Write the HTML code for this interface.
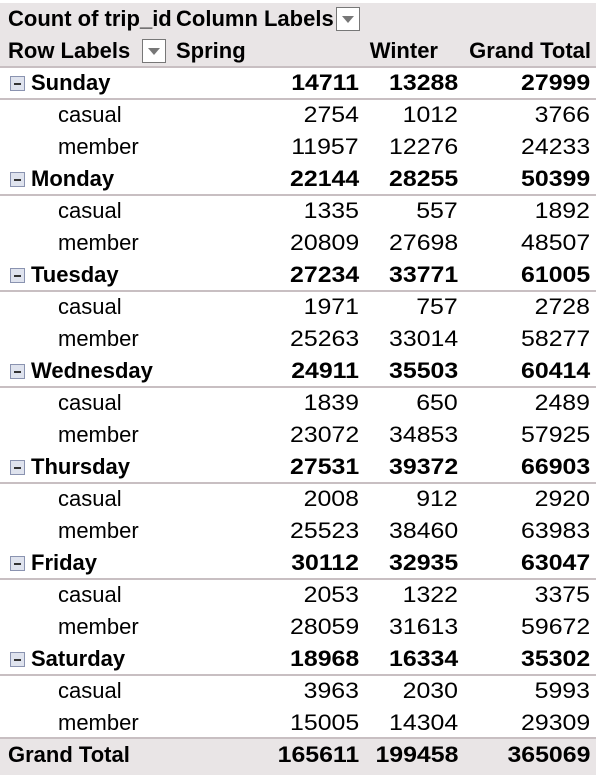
<!DOCTYPE html>
<html><head><meta charset="utf-8"><style>
body{margin:0;width:596px;height:772px;background:#fff;overflow:hidden;font-family:"Liberation Sans",sans-serif;color:#000}
#t{position:relative;width:596px;height:772px}
.r{position:absolute;left:0;width:596px;height:32px}
.c{position:absolute;font-size:22px;line-height:32px;white-space:nowrap}
.n{text-align:right;transform:scaleX(1.13);transform-origin:right center}
.dd{position:absolute;width:24px;height:24px;border:1px solid #777;background:#fff;box-sizing:border-box}
.dd:after{content:"";position:absolute;left:5px;top:8px;border-left:6px solid transparent;border-right:6px solid transparent;border-top:7px solid #777}
.mi{position:absolute;left:10px;top:9px;width:15px;height:15px;border:1px solid #8a93b0;background:#dfe3ee;box-sizing:border-box}
.mi:after{content:"";position:absolute;left:3px;top:6px;width:7px;height:2px;background:#333}
</style></head><body>
<div id="t"></div>
<script>
const days=["Sunday","Monday","Tuesday","Wednesday","Thursday","Friday","Saturday"];
const daySpring=[14711,22144,27234,24911,27531,30112,18968];
const dayWinter=[13288,28255,33771,35503,39372,32935,16334];
const dayTotal=[27999,50399,61005,60414,66903,63047,35302];
const casualSpring=[2754,1335,1971,1839,2008,2053,3963];
const casualWinter=[1012,557,757,650,912,1322,2030];
const casualTotal=[3766,1892,2728,2489,2920,3375,5993];
const memberSpring=[11957,20809,25263,23072,25523,28059,15005];
const memberWinter=[12276,27698,33014,34853,38460,31613,14304];
const memberTotal=[24233,48507,58277,57925,63983,59672,29309];
const grand=[165611,199458,365069];
const colRight=[359,458,590];
const t=document.getElementById('t');
function row(top,bg,name){const r=document.createElement('div');r.className='r';r.style.top=top+'px';if(bg)r.style.background=bg;


t.appendChild(r);return r;}
function cell(r,txt,left,right,bold,name,isNum){const c=document.createElement('div');c.className='c'+(isNum?' n':'');c.textContent=txt;
if(right){c.style.right=(596-right)+'px';}else c.style.left=left+'px';
if(bold)c.style.fontWeight='bold';


r.appendChild(c);return c;}
const h1=row(3,'#e9e5e6','header-row-1');h1.style.height='32px';
cell(h1,'Count of trip_id',8,0,true,'value-field-label');
cell(h1,'Column Labels',176,0,true,'column-labels-header');
let d=document.createElement('div');d.className='dd';d.style.left='336px';d.style.top='4px';


h1.appendChild(d);
const h2=row(35,'#e9e5e6','header-row-2');
cell(h2,'Row Labels',8,0,true,'row-labels-header');
d=document.createElement('div');d.className='dd';d.style.left='142px';d.style.top='4px';


h2.appendChild(d);
cell(h2,'Spring',176,0,true,'spring-header');
cell(h2,'Winter',0,438,true,'winter-header');
cell(h2,'Grand Total',0,591,true,'grand-total-header');
h2.style.borderBottom='2px solid #c8bfc2';h2.style.height='31px';
let y=67;
days.forEach((day,i)=>{
 const r=row(y,null,'day-row-'+day.toLowerCase());r.style.borderBottom='2px solid #c8bfc2';r.style.height='31px';
 const m=document.createElement('div');m.className='mi';
 
 
 r.appendChild(m);
 cell(r,day,31,0,true,'day-label');
 cell(r,daySpring[i],0,colRight[0],true,'day-spring',1);
 cell(r,dayWinter[i],0,colRight[1],true,'day-winter',1);
 cell(r,dayTotal[i],0,colRight[2],true,'day-total',1);
 y+=32;
 const c=row(y,null,'casual-row');
 cell(c,'casual',58,0,false,'casual-label');
 cell(c,casualSpring[i],0,colRight[0],false,'casual-spring',1);
 cell(c,casualWinter[i],0,colRight[1],false,'casual-winter',1);
 cell(c,casualTotal[i],0,colRight[2],false,'casual-total',1);
 y+=32;
 const mr=row(y,null,'member-row');
 cell(mr,'member',58,0,false,'member-label');
 cell(mr,memberSpring[i],0,colRight[0],false,'member-spring',1);
 cell(mr,memberWinter[i],0,colRight[1],false,'member-winter',1);
 cell(mr,memberTotal[i],0,colRight[2],false,'member-total',1);
 y+=32;
});
const g=row(y-2,'#e9e5e6','grand-total-row');g.style.borderTop='2px solid #c8bfc2';g.style.height='36px';
cell(g,'Grand Total',8,0,true,'grand-total-label');
grand.forEach((v,k)=>cell(g,v,0,colRight[k],true,'grand-total-value',1));
</script>
</body></html>
